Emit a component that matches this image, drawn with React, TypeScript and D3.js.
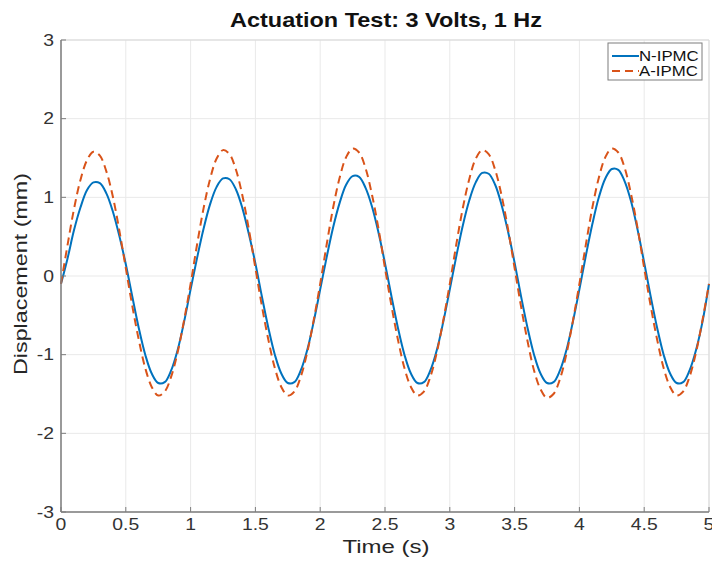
import React from "react";
import * as d3 from "d3";

const title = "Actuation Test: 3 Volts, 1 Hz";
const xLabel = "Time (s)";
const yLabel = "Displacement (mm)";
const xTicks = [0, 0.5, 1, 1.5, 2, 2.5, 3, 3.5, 4, 4.5, 5];
const yTicks = [-3, -2, -1, 0, 1, 2, 3];
const seriesNames = ["N-IPMC", "A-IPMC"];

// sample times every 0.05 s from 0 to 5 s
const time = d3.range(0, 101).map((i) => +(i * 0.05).toFixed(2));

const nIpmc = [
  -0.10, 0.22, 0.58, 0.87, 1.09, 1.19, 1.18, 1.05, 0.82, 0.51, 0.15, -0.26, -0.66, -1.00, -1.24, -1.36, -1.35, -1.20, -0.94, -0.58,
  -0.17, 0.23, 0.60, 0.91, 1.13, 1.24, 1.23, 1.10, 0.86, 0.53, 0.16, -0.26, -0.66, -1.00, -1.24, -1.36, -1.35, -1.20, -0.94, -0.58,
  -0.17, 0.24, 0.62, 0.93, 1.16, 1.27, 1.26, 1.12, 0.88, 0.55, 0.16, -0.26, -0.66, -1.00, -1.24, -1.36, -1.35, -1.20, -0.94, -0.58,
  -0.17, 0.25, 0.64, 0.96, 1.19, 1.31, 1.30, 1.16, 0.90, 0.56, 0.17, -0.26, -0.66, -1.00, -1.24, -1.36, -1.35, -1.20, -0.94, -0.58,
  -0.17, 0.26, 0.66, 1.00, 1.24, 1.36, 1.35, 1.20, 0.94, 0.58, 0.17, -0.26, -0.66, -1.00, -1.24, -1.36, -1.35, -1.20, -0.94, -0.58,
  -0.10,
];

const aIpmc = [
  -0.10, 0.39, 0.85, 1.22, 1.47, 1.58, 1.53, 1.33, 1.01, 0.58, 0.10, -0.38, -0.81, -1.17, -1.41, -1.52, -1.47, -1.28, -0.97, -0.56,
  -0.10, 0.40, 0.86, 1.23, 1.49, 1.60, 1.55, 1.35, 1.02, 0.59, 0.10, -0.38, -0.81, -1.17, -1.41, -1.52, -1.47, -1.28, -0.97, -0.56,
  -0.10, 0.40, 0.87, 1.25, 1.51, 1.62, 1.57, 1.37, 1.03, 0.60, 0.10, -0.38, -0.81, -1.17, -1.41, -1.52, -1.47, -1.28, -0.97, -0.56,
  -0.10, 0.40, 0.86, 1.23, 1.49, 1.60, 1.55, 1.35, 1.02, 0.59, 0.10, -0.39, -0.83, -1.20, -1.44, -1.55, -1.50, -1.31, -0.99, -0.57,
  -0.10, 0.40, 0.87, 1.25, 1.51, 1.62, 1.57, 1.37, 1.03, 0.60, 0.10, -0.38, -0.81, -1.17, -1.41, -1.52, -1.47, -1.28, -0.97, -0.56,
  -0.10,
];

const W = 712;
const H = 562;
const left = 61;
const right = 709;
const top = 40;
const bottom = 512;

const BLUE = "#0072BD";
const ORANGE = "#D95319";
const AXIS = "#7d7d7d";
const FONT = "'Liberation Sans', Arial, Helvetica, sans-serif";
const SX = 1.14; // horizontal text stretch seen in the reference

export default function App() {
  const x = d3.scaleLinear().domain([0, 5]).range([left, right]);
  const y = d3.scaleLinear().domain([-3, 3]).range([bottom, top]);
  const line = d3
    .line<number>()
    .x((_, i) => x(time[i]))
    .y((d) => y(d))
    .curve(d3.curveCatmullRom.alpha(0.5));

  return (
    <svg
      width={W}
      height={H}
      style={{ position: "absolute", left: 0, top: 0, background: "#fff" }}
      fontFamily={FONT}
    >
      <rect x={0} y={0} width={W} height={H} fill="#fff" />
      {/* grid */}
      {xTicks.map((t) => (
        <line key={"gx" + t} x1={x(t)} x2={x(t)} y1={top} y2={bottom} stroke="#e9e9e9" strokeWidth={1} />
      ))}
      {yTicks.map((t) => (
        <line key={"gy" + t} x1={left} x2={right} y1={y(t)} y2={y(t)} stroke="#e9e9e9" strokeWidth={1} />
      ))}
      {/* box */}
      <line x1={left} x2={right} y1={top} y2={top} stroke="#d8d8d8" strokeWidth={1} />
      <line x1={right} x2={right} y1={top} y2={bottom} stroke="#d8d8d8" strokeWidth={1} />
      {/* series */}
      <path d={line(nIpmc) || ""} fill="none" stroke={BLUE} strokeWidth={2} />
      <path d={line(aIpmc) || ""} fill="none" stroke={ORANGE} strokeWidth={2} strokeDasharray="8,5" />
      {/* axes */}
      <line x1={left} x2={left} y1={top} y2={bottom} stroke={AXIS} strokeWidth={1.5} />
      <line x1={left} x2={right} y1={bottom} y2={bottom} stroke={AXIS} strokeWidth={1.5} />
      {yTicks.map((t) => (
        <g key={"yt" + t}>
          <line x1={left} x2={left + 5} y1={y(t)} y2={y(t)} stroke={AXIS} strokeWidth={1} />
          <text
            transform={`translate(${left - 7}, ${y(t)}) scale(${SX}, 1)`}
            dy="0.33em"
            textAnchor="end"
            fontSize={17}
            fill="#333"
          >
            {t}
          </text>
        </g>
      ))}
      {xTicks.map((t) => (
        <g key={"xt" + t}>
          <line x1={x(t)} x2={x(t)} y1={bottom} y2={bottom - 5} stroke={AXIS} strokeWidth={1} />
          <text
            transform={`translate(${x(t)}, ${bottom + 18}) scale(${SX}, 1)`}
            textAnchor="middle"
            fontSize={17}
            fill="#333"
          >
            {t}
          </text>
        </g>
      ))}
      {/* labels */}
      <text
        x={386}
        y={27}
        textAnchor="middle"
        fontSize={21}
        fontWeight="bold"
        fill="#111"
        textLength={312}
        lengthAdjust="spacingAndGlyphs"
      >
        {title}
      </text>
      <text
        x={386}
        y={553}
        textAnchor="middle"
        fontSize={19}
        fill="#262626"
        textLength={87}
        lengthAdjust="spacingAndGlyphs"
      >
        {xLabel}
      </text>
      <text
        transform={`translate(27, 274) rotate(-90)`}
        textAnchor="middle"
        fontSize={19}
        fill="#262626"
        textLength={202}
        lengthAdjust="spacingAndGlyphs"
      >
        {yLabel}
      </text>
      {/* legend */}
      <rect x={608} y={43} width={94} height={37} fill="#fff" stroke={AXIS} strokeWidth={1} />
      {seriesNames.map((name, i) => (
        <g key={name}>
          <line
            x1={612}
            x2={639}
            y1={56 + i * 15}
            y2={56 + i * 15}
            stroke={i === 0 ? BLUE : ORANGE}
            strokeWidth={2}
            strokeDasharray={i === 0 ? undefined : "8,5"}
          />
          <text
            transform={`translate(639, ${56 + i * 15}) scale(1.2, 1)`}
            dy="0.36em"
            fontSize={14}
            fill="#111"
          >
            {name}
          </text>
        </g>
      ))}
    </svg>
  );
}
